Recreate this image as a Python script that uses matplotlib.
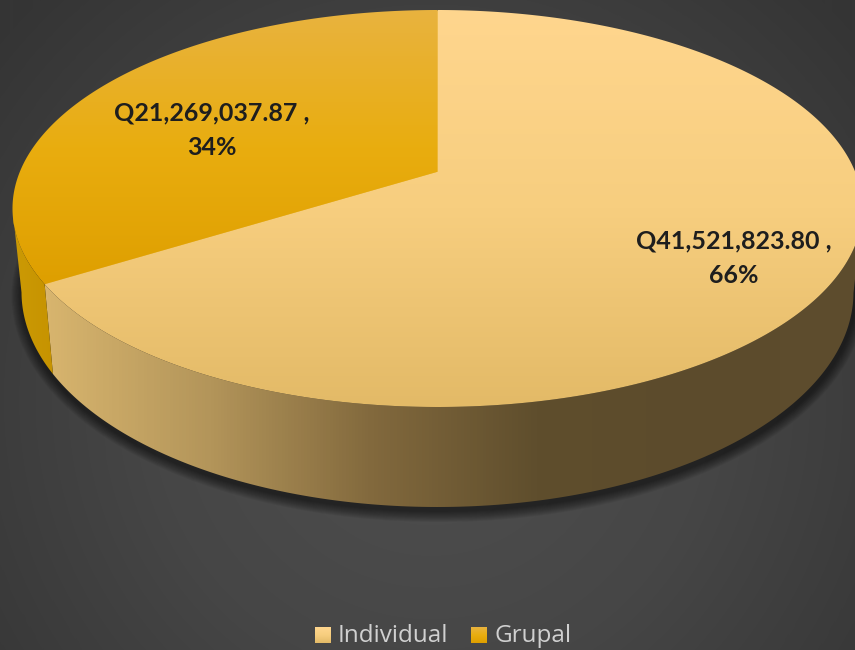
import numpy as np
import matplotlib
matplotlib.use("Agg")
import matplotlib.pyplot as plt
from matplotlib.colors import LinearSegmentedColormap
from matplotlib.patches import Polygon, Ellipse

categorias = ["Individual", "Grupal"]
montos = [41521823.80, 21269037.87]

# colores arriba -> abajo de la cara superior
cara_individual = ["#FFD68E", "#F7CE7F", "#E3BA67"]
cara_grupal = ["#E8B33F", "#E9AD0F", "#DE9F00"]
pared_individual = ["#D8B56E", "#B3955A", "#82693D", "#5F4E2D", "#5C4B2C", "#5E4D2E"]
pared_grupal = ["#CC9A05", "#C69300"]

# geometria en pixeles de la elipse superior e inferior
cx, cy, rx, ry = 437.5, 208.5, 425, 198.5
cx2, cy2, rx2, ry2 = 437.5, 292, 416, 215
k = 0.185  # perspectiva


def proyectar(theta):
    x = np.sin(theta)
    y = np.cos(theta)
    d = 1 + k * y
    return x * np.sqrt(1 - k * k) / d, (y + k) / d


def degradado(ax, colores, clip, extent, vertical=True):
    cmap = LinearSegmentedColormap.from_list("g", colores)
    g = np.linspace(0, 1, 256)
    g = g[:, None] if vertical else g[None, :]
    im = ax.imshow(g, cmap=cmap, extent=extent, aspect="auto", origin="upper", zorder=clip.get_zorder())
    im.set_clip_path(clip)
    return im


fig = plt.figure(figsize=(8.55, 6.5), dpi=100)
ax = fig.add_axes([0, 0, 1, 1])

# fondo radial
yy, xx = np.mgrid[0:650, 0:855]
r = np.hypot((xx - 430) / 560, (yy - 400) / 560)
fondo = np.clip(r, 0, 1)
cmap_fondo = LinearSegmentedColormap.from_list("f", ["#4F4F4F", "#464646", "#353535"])
ax.imshow(fondo, cmap=cmap_fondo, vmin=0, vmax=1, extent=(0, 855, 650, 0), aspect="auto", zorder=0)

# sombra
for i in range(11, 0, -1):
    ax.add_patch(Ellipse((cx2 + 1, cy2 + 4), 2 * (rx2 + i), 2 * (ry2 + i), fc="black", ec="none", alpha=0.055, zorder=1))

fracciones = np.array(montos) / np.sum(montos)
cortes = np.concatenate([[0], np.cumsum(fracciones)]) * 2 * np.pi

estilos = [
    (cara_individual, pared_individual),
    (cara_grupal, pared_grupal),
]

# paredes
for i in range(len(montos)):
    t = np.linspace(cortes[i], cortes[i + 1], 600)
    px, py = proyectar(t)
    vis = py <= 0
    arriba = np.column_stack([cx + rx * px[vis], cy - ry * py[vis]])
    abajo = np.column_stack([cx2 + rx2 * px[vis], cy2 - ry2 * py[vis]])
    verts = np.vstack([arriba, abajo[::-1]])
    clip = Polygon(verts, closed=True, fc="none", ec="none", transform=ax.transData, zorder=3)
    ax.add_patch(clip)
    x0, x1 = verts[:, 0].min(), verts[:, 0].max()
    degradado(ax, estilos[i][1], clip, (x0, x1, 520, 200), vertical=False)

# base bajo las caras para que no se vea la union
ax.add_patch(Ellipse((cx, cy), 2 * rx - 2, 2 * ry - 2, fc="#EDB93F", ec="none", zorder=3.5))

# caras superiores
for i in range(len(montos)):
    t = np.linspace(cortes[i], cortes[i + 1], 600)
    px, py = proyectar(t)
    verts = np.column_stack([cx + rx * px, cy - ry * py])
    verts = np.vstack([verts, [cx, cy - ry * k]])
    clip = Polygon(verts, closed=True, fc="none", ec="none", transform=ax.transData, zorder=4)
    ax.add_patch(clip)
    y0, y1 = cy - ry, cy + ry
    if i == 1:
        y1 = 285
    degradado(ax, estilos[i][0], clip, (0, 870, y1, y0))

# etiquetas
pos_etiquetas = [(734, 258), (212, 130)]
for v, f, (x, y) in zip(montos, fracciones, pos_etiquetas):
    ax.text(x, y, f"Q{v:,.2f} ,\n{f * 100:.0f}%", ha="center", va="center", family="Lato",
            fontweight="bold", fontsize=18, color="#1E1E1E", linespacing=1.6, zorder=6)

# leyenda
pos_leyenda = [(315, 338), (471, 494)]
for nombre, est, (xc, xt) in zip(categorias, estilos, pos_leyenda):
    cuad = Polygon([(xc, 627), (xc + 16, 627), (xc + 16, 643), (xc, 643)], closed=True, fc="none", ec="none",
                   transform=ax.transData, zorder=5)
    ax.add_patch(cuad)
    degradado(ax, est[0], cuad, (xc, xc + 16, 643, 627))
    ax.text(xt, 636, nombre, ha="left", va="center", family="Open Sans", fontsize=17.5, color="#D0D0D0", zorder=6)

ax.set_xlim(0, 855)
ax.set_ylim(650, 0)
ax.axis("off")
fig.savefig("out.png", dpi=100)
